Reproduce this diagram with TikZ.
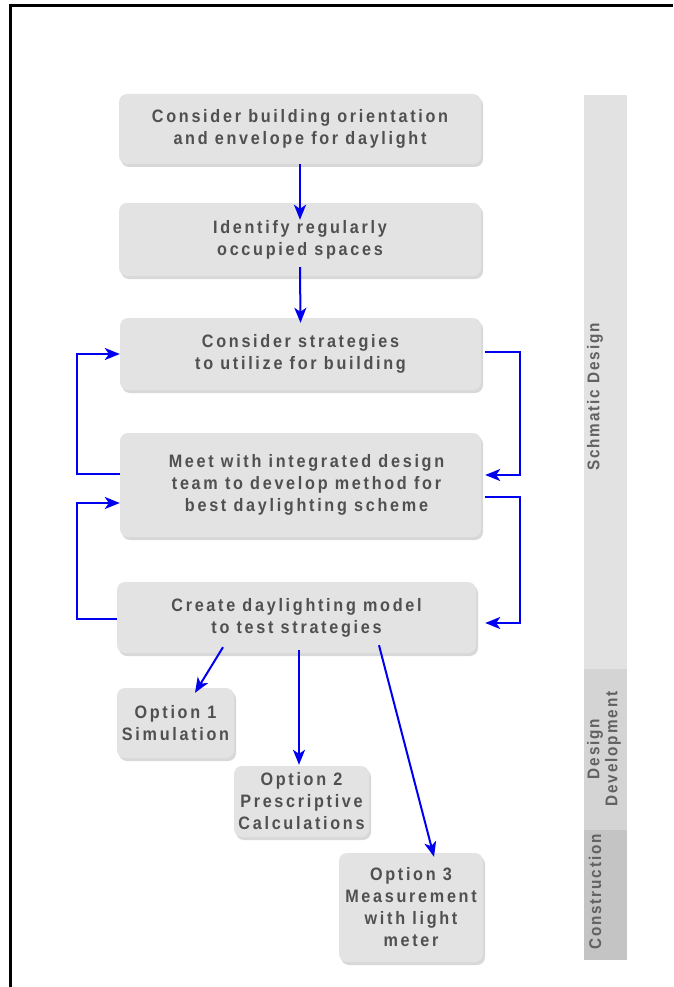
\documentclass[tikz,border=0pt]{standalone}
\usepackage{fontspec}
\newfontfamily\boxfont{Liberation Sans}[LetterSpace=15, FakeStretch=0.9]
\newfontfamily\sidefont{Liberation Sans}[LetterSpace=11, FakeStretch=0.9]
\usepackage{tikz}
\usetikzlibrary{arrows.meta,shadows}
\definecolor{boxgrey}{HTML}{E3E3E3}
\definecolor{textgrey}{HTML}{505050}
\definecolor{flowblue}{HTML}{0000F0}
\definecolor{phaseA}{HTML}{E2E2E2}
\definecolor{phaseB}{HTML}{D4D4D4}
\definecolor{phaseC}{HTML}{C4C4C4}

\begin{document}
\begin{tikzpicture}
            [x=1pt, y=1pt, every node/.style={inner sep=0pt},
             box/.style={rounded corners=8pt, fill=boxgrey, text=textgrey, align=center,
                         font=\boxfont\bfseries\fontsize{18pt}{22pt}\selectfont,
                         drop shadow={shadow xshift=2pt, shadow yshift=-3pt, fill=black!30, opacity=0.5}},
             phase/.style={rotate=90, text=textgrey!90, align=center,
                           font=\sidefont\bfseries\fontsize{17pt}{18pt}\selectfont},
             flow/.style={line width=2pt, color=flowblue, -{Stealth[length=15pt, width=12pt, inset=4pt]}}]
                \useasboundingbox (0,0) rectangle (673,-987);
                \draw [line width=3pt] (10,-987) -- (10,-6) -- (673,-6);
                % phases bar
                \fill [phaseA] (584,-95) rectangle (627,-669);
                \fill [phaseB] (584,-669) rectangle (627,-830);
                \fill [phaseC] (584,-830) rectangle (627,-960);
                \node (schem) [phase] at (595,-397) {Schmatic Design};
                \node (devel) [phase] at (604,-749) {Design\\Development};
                \node (constr) [phase] at (595,-892) {Construction};
                % steps
                \node (orient) [box, minimum width=362pt, minimum height=70pt] at (300,-129) {Consider building orientation\\and envelope for daylight};
                \node (spaces) [box, minimum width=362pt, minimum height=73pt] at (300,-239.5) {Identify regularly\\occupied spaces};
                \node (strat) [box, minimum width=361pt, minimum height=72pt] at (300.5,-354) {Consider strategies\\to utilize for building};
                \node (meet) [box, minimum width=361pt, minimum height=104pt] at (300.5,-485) {\hspace*{12pt}Meet with integrated design\\\hspace*{12pt}team to develop method for\\\hspace*{12pt}best daylighting scheme};
                \node (model) [box, minimum width=359pt, minimum height=71pt] at (296.5,-617.5) {Create daylighting model\\to test strategies};
                \node (opt1) [box, minimum width=117pt, minimum height=70pt] at (175.5,-723) {Option 1\\Simulation};
                \node (opt2) [box, minimum width=135pt, minimum height=71pt] at (301.5,-801.5) {Option 2\\Prescriptive\\Calculations};
                \node (opt3) [box, minimum width=144pt, minimum height=109pt] at (411,-907.5) {Option 3\\Measurement\\with light\\meter};
                % arrows
                \draw [flow] (orient) to ([yshift=-17pt]spaces.north);
                \draw [flow] ([yshift=9pt]spaces.south) to ([yshift=-5pt]strat.north);
                \draw [flow] ([yshift=11pt]meet.west) -- ++(-43pt,0) |- (strat.west);
                \draw [flow] ([yshift=-1.5pt]model.west) -- ++(-40pt,0) |- ([yshift=-18pt]meet.west);
                \draw [flow] ([xshift=4pt, yshift=2pt]strat.east) -- ++(35pt,0) |- ([xshift=4pt, yshift=10pt]meet.east);
                \draw [flow] ([xshift=4pt, yshift=-12pt]meet.east) -- ++(35pt,0) |- ([xshift=9pt, yshift=-5.5pt]model.east);
                \draw [flow] ([xshift=-73.5pt, yshift=6pt]model.south) to ([xshift=19.5pt, yshift=-5pt]opt1.north);
                \draw [flow] ([xshift=2.5pt, yshift=3pt]model.south) to ([xshift=-2.5pt, yshift=1pt]opt2.north);
                \draw [flow] ([xshift=82.5pt, yshift=8pt]model.south) to ([xshift=23pt, yshift=-4pt]opt3.north);
            \end{tikzpicture}
\end{document}
